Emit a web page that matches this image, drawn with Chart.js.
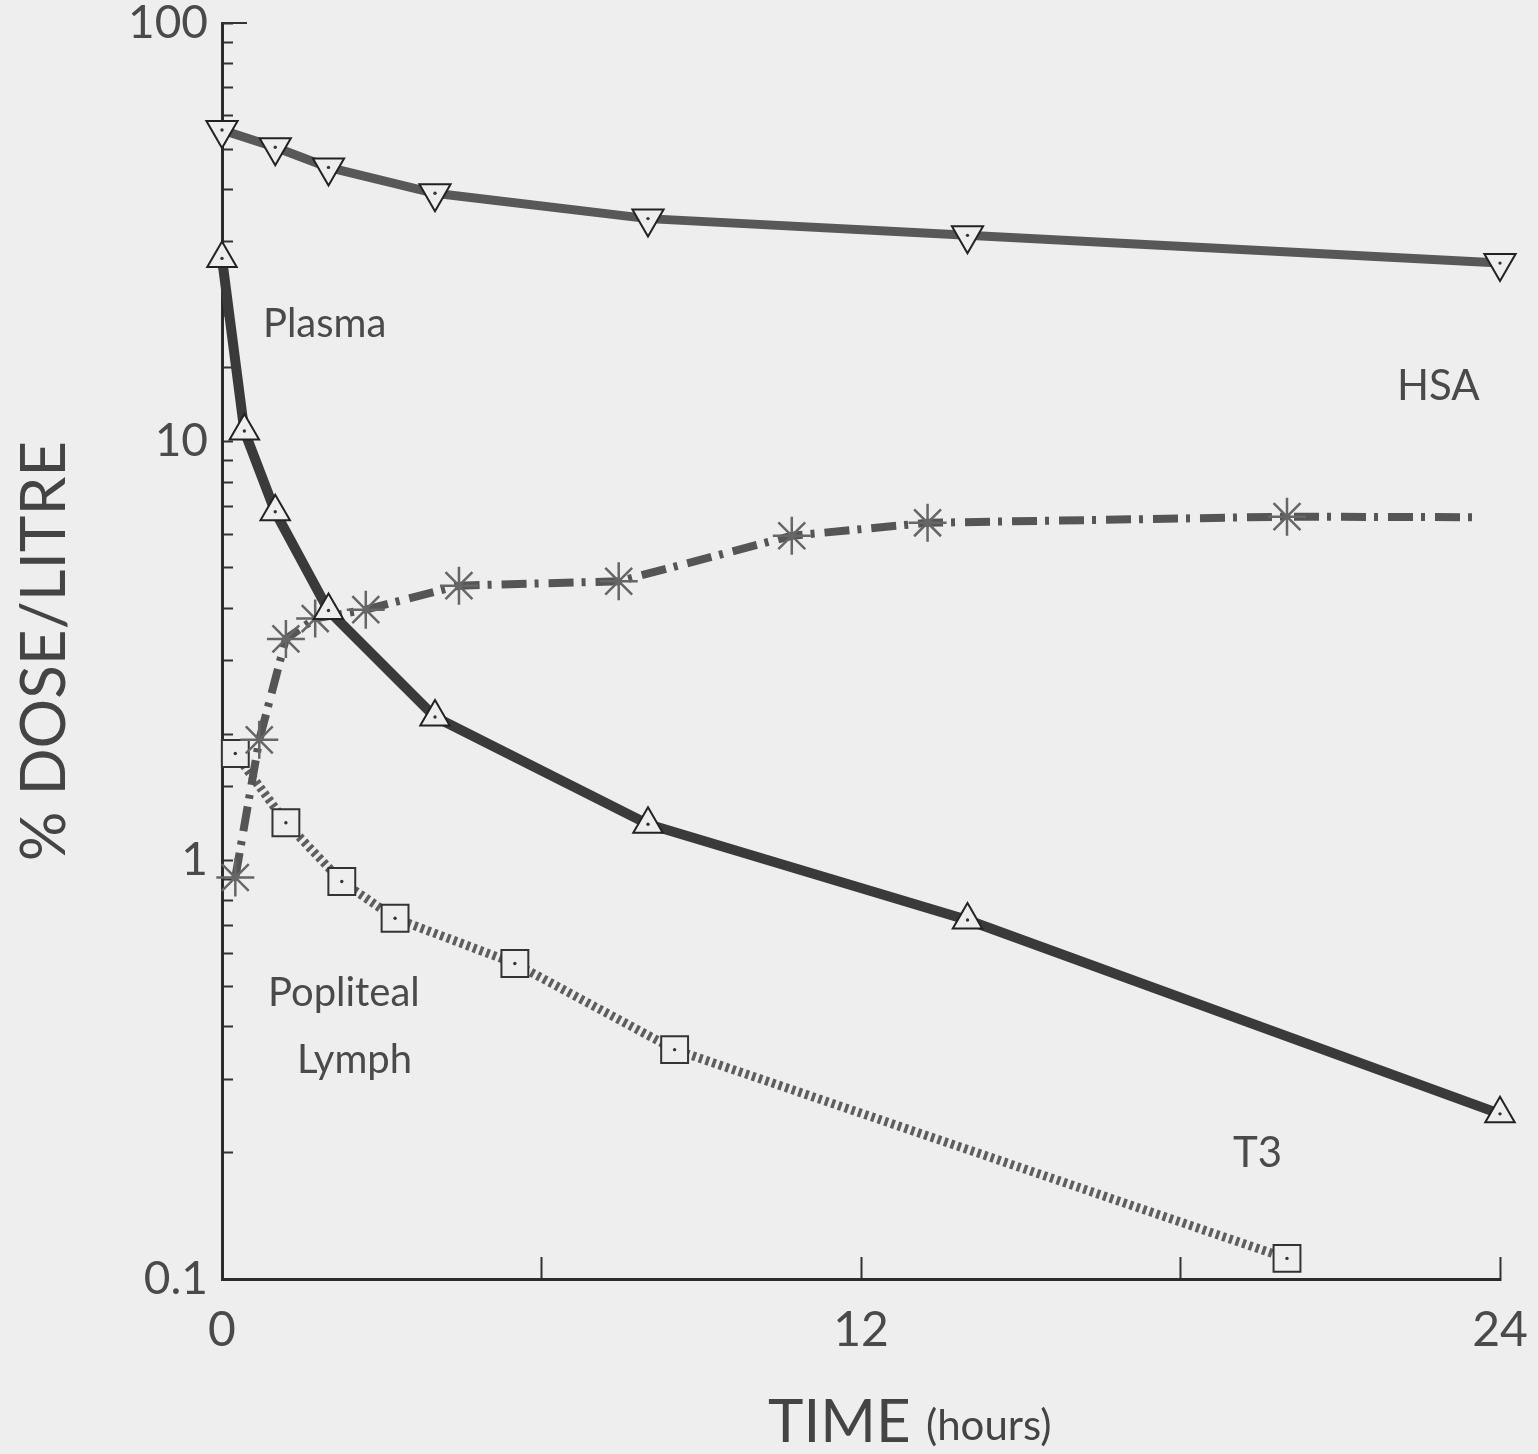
<!DOCTYPE html>
<html>
<head>
<meta charset="utf-8">
<script src="https://cdn.jsdelivr.net/npm/chart.js@4.4.1/dist/chart.umd.min.js"></script>
<style>
  html, body { margin: 0; padding: 0; background: #eeeeee; }
  #wrap { width: 1538px; height: 1454px; }
</style>
</head>
<body>
<div id="wrap"><canvas id="c" width="1538" height="1454"></canvas></div>
<script>
// ---- data (time in hours, % dose / litre) ----
const hsaPlasmaTime = [0, 1, 2, 4, 8, 14, 24];
const hsaPlasma     = [55.5, 50.5, 45.2, 39.2, 34.1, 31.1, 26.7];

const t3PlasmaTime  = [0, 0.42, 1, 2, 4, 8, 14, 24];
const t3Plasma      = [27.4, 10.6, 6.8, 3.95, 2.2, 1.22, 0.72, 0.248];

const hsaLymphTime  = [0.25, 0.7, 1.2, 1.75, 2.7, 4.45, 7.45, 10.7, 13.25, 20, 23.6];
const hsaLymph      = [0.91, 1.94, 3.38, 3.78, 3.97, 4.53, 4.64, 5.96, 6.4, 6.62, 6.6];

const t3LymphTime   = [0.25, 1.2, 2.25, 3.25, 5.5, 8.5, 20];
const t3Lymph       = [1.80, 1.23, 0.89, 0.727, 0.567, 0.353, 0.112];

const xTickLabels = { 0: '0', 12: '12', 24: '24' };
const yTickLabels = { '0.1': '0.1', '1': '1', '10': '10', '100': '100' };

const seriesLabels = ['HSA plasma', 'T3 plasma', 'HSA popliteal lymph', 'T3 popliteal lymph'];
const textNotes = ['Plasma', 'HSA', 'Popliteal', 'Lymph', 'T3'];

// ---- helpers ----
const toXY = (xs, ys) => xs.map((x, i) => ({ x: x, y: ys[i] }));
const BG = '#eeeeee';
const FONT = 'Lato, "Noto Sans", "DejaVu Sans", sans-serif';

const centerDots = {
  id: 'centerDots',
  afterDatasetsDraw(chart) {
    const ctx = chart.ctx;
    chart.data.datasets.forEach((ds, i) => {
      if (!ds.centerDot) return;
      const meta = chart.getDatasetMeta(i);
      ctx.save();
      ctx.fillStyle = '#333';
      meta.data.forEach(pt => {
        ctx.beginPath();
        ctx.arc(pt.x, pt.y, 1.7, 0, Math.PI * 2);
        ctx.fill();
      });
      ctx.restore();
    });
  }
};

const notes = {
  id: 'notes',
  afterDraw(chart) {
    const ctx = chart.ctx;
    const ys = chart.scales.y;
    const area = chart.chartArea;
    ctx.save();
    // longer top tick at 100
    ctx.strokeStyle = '#333';
    ctx.lineWidth = 2;
    const yTop = ys.getPixelForValue(100);
    ctx.beginPath();
    ctx.moveTo(area.left, yTop);
    ctx.lineTo(area.left + 25, yTop);
    ctx.stroke();

    ctx.fillStyle = '#4a4a4a';
    ctx.textAlign = 'left';
    ctx.textBaseline = 'alphabetic';
    ctx.font = '40px ' + FONT;
    ctx.fillText(textNotes[0], 263, 337);
    ctx.fillText(textNotes[2], 268, 1006);
    ctx.fillText(textNotes[3], 297, 1073);
    ctx.font = '42px ' + FONT;
    ctx.fillText(textNotes[1], 1397, 400);
    ctx.fillText(textNotes[4], 1233, 1167);
    // x axis title: large TIME + smaller (hours)
    ctx.fillStyle = '#444';
    ctx.font = '60px ' + FONT;
    ctx.fillText('TIME', 768, 1442);
    const w = ctx.measureText('TIME ').width;
    ctx.font = '42px ' + FONT;
    ctx.fillText('(hours)', 768 + w, 1440);
    ctx.restore();
  }
};

new Chart(document.getElementById('c'), {
  type: 'line',
  data: {
    datasets: [
      {
        label: seriesLabels[0],
        data: toXY(hsaPlasmaTime, hsaPlasma),
        borderColor: '#585858', borderWidth: 9,
        pointStyle: 'triangle', rotation: 180, pointRadius: 18,
        pointBorderColor: '#222', pointBorderWidth: 2, pointBackgroundColor: BG,
        tension: 0, clip: false, centerDot: true
      },
      {
        label: seriesLabels[1],
        data: toXY(t3PlasmaTime, t3Plasma),
        borderColor: '#3a3a3a', borderWidth: 10,
        pointStyle: 'triangle', pointRadius: 17,
        pointBorderColor: '#222', pointBorderWidth: 2, pointBackgroundColor: BG,
        tension: 0, clip: false, centerDot: true
      },
      {
        label: seriesLabels[2],
        data: toXY(hsaLymphTime, hsaLymph),
        borderColor: '#555', borderWidth: 8,
        borderDash: [25, 8, 4, 10],
        pointStyle: 'star',
        pointRadius: ctx => (ctx.dataIndex === hsaLymph.length - 1 ? 0 : 19),
        pointBorderColor: '#666', pointBorderWidth: 2.5, pointBackgroundColor: BG,
        tension: 0, clip: false
      },
      {
        label: seriesLabels[3],
        data: toXY(t3LymphTime, t3Lymph),
        borderColor: '#5e5e5e', borderWidth: 9,
        borderDash: [3.5, 3.5],
        pointStyle: 'rect', pointRadius: 19,
        pointBorderColor: '#333', pointBorderWidth: 2, pointBackgroundColor: BG,
        tension: 0, clip: false, centerDot: true
      }
    ]
  },
  options: {
    responsive: false,
    animation: false,
    events: [],
    layout: { padding: { left: 0, right: 38, top: 23, bottom: 0 } },
    plugins: { legend: { display: false }, tooltip: { enabled: false }, title: { display: false } },
    scales: {
      x: {
        type: 'linear', position: 'bottom', min: 0, max: 24,
        ticks: {
          stepSize: 6, autoSkip: false, maxRotation: 0,
          padding: 45, color: '#4a4a4a',
          font: { family: FONT, size: 48 },
          callback: v => (xTickLabels[v] !== undefined ? xTickLabels[v] : '')
        },
        grid: { drawOnChartArea: false, drawTicks: true, tickLength: -22, tickColor: '#333', tickWidth: 2 },
        border: { display: true, color: '#2b2b2b', width: 3 },
        afterFit: s => { s.height = 175; s.paddingLeft = 0; s.paddingRight = 0; }
      },
      y: {
        type: 'logarithmic', position: 'left', min: 0.1, max: 100,
        ticks: {
          autoSkip: false, padding: 25, color: '#4a4a4a',
          font: { family: FONT, size: 46 },
          callback: v => {
            const k = String(parseFloat(Number(v).toPrecision(6)));
            return yTickLabels[k] !== undefined ? yTickLabels[k] : '';
          }
        },
        grid: { drawOnChartArea: false, drawTicks: true, tickLength: -11, tickColor: '#333', tickWidth: 2 },
        border: { display: true, color: '#2b2b2b', width: 3 },
        title: {
          display: true, text: '% DOSE/LITRE', color: '#444',
          font: { family: FONT, size: 62 }, padding: { top: 8, bottom: 0 }
        },
        afterFit: s => { s.width = 222; s.paddingTop = 0; s.paddingBottom = 0; }
      }
    }
  },
  plugins: [centerDots, notes]
});
</script>
</body>
</html>
